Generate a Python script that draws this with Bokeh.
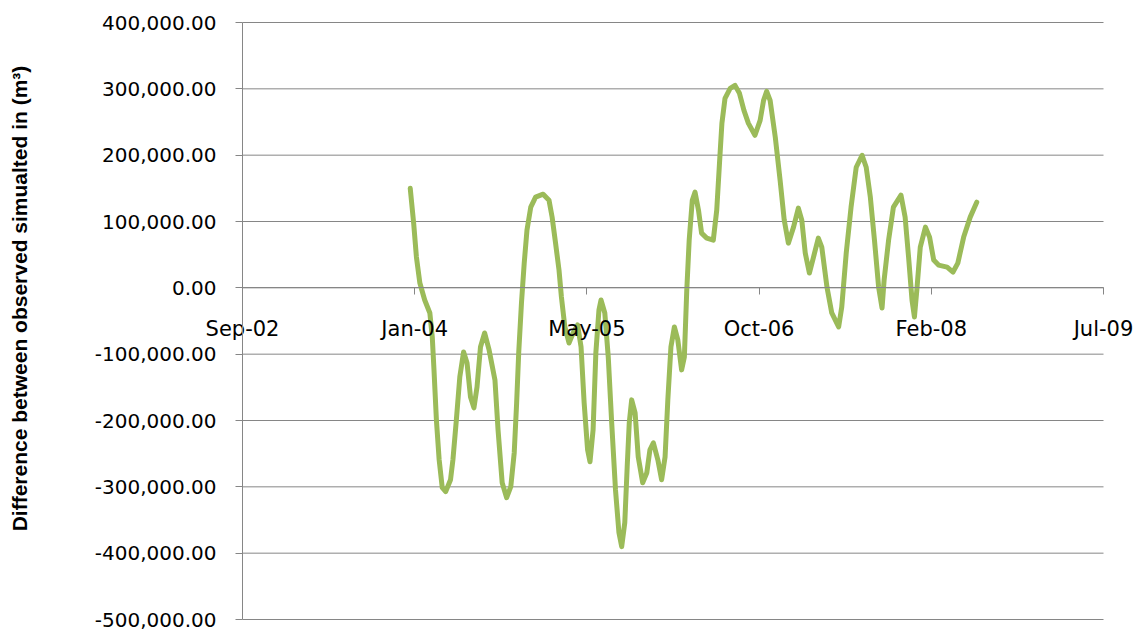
import math
import pandas as pd
from bokeh.plotting import figure
from bokeh.models import (Range1d, FixedTicker, NumeralTickFormatter, Label,
                          DatetimeTickFormatter, ColumnDataSource)
from bokeh.embed import file_html
from bokeh.resources import INLINE

# ---- data ----
dates = [
    "2004-01-01", "2004-01-11", "2004-01-19", "2004-01-29", "2004-02-12", "2004-02-27",
    "2004-03-05", "2004-03-10", "2004-03-17", "2004-03-25", "2004-04-03", "2004-04-13",
    "2004-04-27", "2004-05-04", "2004-05-14", "2004-05-24", "2004-06-04", "2004-06-14",
    "2004-06-24", "2004-07-04", "2004-07-13", "2004-07-23", "2004-08-04", "2004-08-17",
    "2004-09-03", "2004-09-12", "2004-09-24", "2004-10-07", "2004-10-19", "2004-10-29",
    "2004-11-05", "2004-11-11", "2004-11-19", "2004-11-27", "2004-12-05", "2004-12-16",
    "2004-12-30", "2005-01-21", "2005-02-07", "2005-02-16", "2005-02-26", "2005-03-08",
    "2005-03-15", "2005-03-25", "2005-04-06", "2005-04-18", "2005-05-01", "2005-05-11",
    "2005-05-20", "2005-05-30", "2005-06-06", "2005-06-15", "2005-06-23", "2005-07-02",
    "2005-07-08", "2005-07-19", "2005-07-29", "2005-08-08", "2005-08-19", "2005-08-29",
    "2005-09-06", "2005-09-15", "2005-09-22", "2005-09-28", "2005-10-05", "2005-10-15",
    "2005-10-24", "2005-11-06", "2005-11-18", "2005-11-27", "2005-12-07", "2005-12-20",
    "2005-12-31", "2006-01-10", "2006-01-18", "2006-01-27", "2006-02-06", "2006-02-16",
    "2006-02-27", "2006-03-07", "2006-03-14", "2006-03-21", "2006-03-30", "2006-04-07",
    "2006-04-17", "2006-04-26", "2006-05-11", "2006-05-30", "2006-06-09", "2006-06-17",
    "2006-06-24", "2006-07-03", "2006-07-18", "2006-08-01", "2006-08-14", "2006-08-27",
    "2006-09-09", "2006-09-28", "2006-10-13", "2006-10-23", "2006-11-01", "2006-11-11",
    "2006-11-26", "2006-12-10", "2006-12-22", "2007-01-03", "2007-01-18", "2007-02-01",
    "2007-02-11", "2007-02-21", "2007-03-05", "2007-03-17", "2007-03-31", "2007-04-10",
    "2007-04-25", "2007-05-09", "2007-05-29", "2007-06-07", "2007-06-20", "2007-07-04",
    "2007-07-19", "2007-08-05", "2007-08-17", "2007-08-29", "2007-09-10", "2007-09-22",
    "2007-10-02", "2007-10-08", "2007-10-21", "2007-11-04", "2007-11-26", "2007-12-08",
    "2007-12-18", "2007-12-28", "2008-01-04", "2008-01-11", "2008-01-21", "2008-02-05",
    "2008-02-17", "2008-02-29", "2008-03-14", "2008-04-08", "2008-04-25", "2008-05-09",
    "2008-05-26", "2008-06-14", "2008-07-03",
]
difference = [
    150000, 97500, 46400, 7200, -18400, -37900,
    -74000, -123700, -199000, -259200, -301300, -307300,
    -289300, -259200, -199000, -134200, -96600, -113200,
    -164400, -180900, -149300, -89100, -68000, -93600,
    -138800, -214000, -293800, -316400, -299800, -248600,
    -173400, -98100, -22900, 37300, 87000, 121600,
    136700, 141200, 132100, 106600, 67400, 26800,
    -13800, -59000, -83100, -68000, -56000, -89100,
    -173400, -244100, -262200, -214000, -98100, -33400,
    -18400, -37900, -104200, -203500, -304300, -369000,
    -390100, -354000, -269700, -203500, -168900, -188400,
    -254700, -293800, -278700, -244100, -233600, -259200,
    -289300, -254700, -168900, -89100, -59000, -78600,
    -123700, -104200, -3300, 71900, 132100, 144200,
    117100, 82500, 75000, 71900, 117100, 187800,
    248000, 285700, 300700, 305200, 293200, 267600,
    248000, 230000, 252500, 282600, 296200, 282600,
    227000, 162200, 102000, 67400, 91500, 120100,
    102000, 52400, 22300, 46400, 75000, 61400,
    1200, -37900, -59000, -28900, 52400, 121600,
    181800, 199900, 181800, 136700, 71900, 1200,
    -30400, 11700, 71900, 121600, 139700, 106600,
    46400, -18400, -43900, -3300, 61400, 91500,
    76500, 41800, 34300, 31300, 23800, 37300,
    76500, 106600, 129100,
]
x_tick_dates = ["2002-09-01", "2004-01-14", "2005-05-28", "2006-10-10", "2008-02-22", "2009-07-06"]
y_ticks = [-500000, -400000, -300000, -200000, -100000, 0, 100000, 200000, 300000, 400000]
y_title = "Difference between observed simualted in (m\u00b3)"

# ---- layout (pixels of the plot area inside the 1143x631 canvas) ----
W, H = 1143, 631
AREA_L, AREA_R, AREA_T, AREA_B = 242, 1103, 22, 619


def ms(s):
    return pd.Timestamp(s).value / 1e6


tick_ms = [ms(d) for d in x_tick_dates]
t0, t1 = tick_ms[0], tick_ms[-1]
v0, v1 = y_ticks[0], y_ticks[-1]
xs_per_px = (t1 - t0) / (AREA_R - AREA_L)
ys_per_px = (v1 - v0) / (AREA_B - AREA_T)
x_range = Range1d(t0 - AREA_L * xs_per_px, t1 + (W - AREA_R) * xs_per_px)
y_range = Range1d(v0 - (H - AREA_B) * ys_per_px, v1 + AREA_T * ys_per_px)

p = figure(width=W, height=H, output_backend="svg", toolbar_location=None,
           x_axis_type="datetime", x_range=x_range, y_range=y_range,
           min_border=0, min_border_left=0, min_border_right=0,
           min_border_top=0, min_border_bottom=0)
p.outline_line_color = None
p.background_fill_color = "white"
p.border_fill_color = "white"
p.xgrid.visible = False
p.ygrid.visible = False

grid_col = "#868686"
# horizontal gridlines, limited to the plot area (from the y ticks)
p.segment(x0=[t0] * len(y_ticks), x1=[t1] * len(y_ticks), y0=y_ticks, y1=y_ticks,
          line_color=grid_col, line_width=1)

src = ColumnDataSource(dict(x=pd.to_datetime(dates), y=difference))
p.line("x", "y", source=src, line_color="#9BBB59", line_width=5,
       line_join="round", line_cap="round")

fmt = "%b-%y"
xa = p.xaxis[0]
xa.ticker = FixedTicker(ticks=tick_ms)
xa.formatter = DatetimeTickFormatter(milliseconds=fmt, seconds=fmt, minsec=fmt, minutes=fmt,
                                     hourmin=fmt, hours=fmt, days=fmt, months=fmt, years=fmt)
xa.fixed_location = 0
xa.bounds = (t0, t1)
xa.axis_line_color = grid_col
xa.major_tick_line_color = grid_col
xa.major_tick_in = 0
xa.major_tick_out = 7
xa.minor_tick_line_color = None
xa.major_label_text_font = "DejaVu Sans"
xa.major_label_text_font_size = "21px"
xa.major_label_text_color = "black"
xa.major_label_standoff = 22

ya = p.yaxis[0]
ya.ticker = FixedTicker(ticks=y_ticks)
ya.formatter = NumeralTickFormatter(format="0,0.00")
ya.fixed_location = t0
ya.bounds = (v0, v1)
ya.axis_line_color = grid_col
ya.major_tick_line_color = grid_col
ya.major_tick_in = 0
ya.major_tick_out = 7
ya.minor_tick_line_color = None
ya.major_label_text_font = "DejaVu Sans"
ya.major_label_text_font_size = "20px"
ya.major_label_text_color = "black"
ya.major_label_standoff = 19

p.add_layout(Label(x=19, y=H - 298, x_units="screen", y_units="screen", text=y_title,
                   angle=math.pi / 2, text_align="center", text_baseline="middle",
                   text_font="Liberation Sans", text_font_style="bold",
                   text_font_size="21px", text_color="black"))

open("out.html", "w").write(file_html(p, INLINE))
